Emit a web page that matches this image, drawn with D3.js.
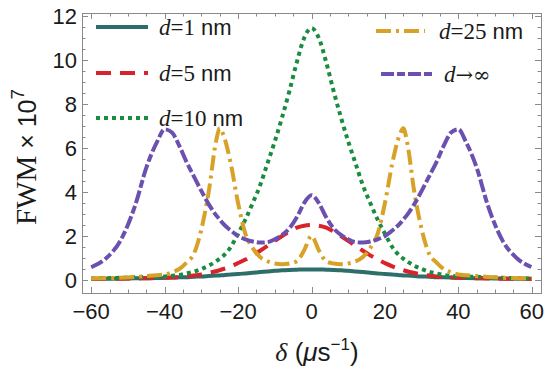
<!DOCTYPE html>
<html>
<head>
<meta charset="utf-8">
<script src="https://cdn.jsdelivr.net/npm/d3@7"></script>
<style>
  body { margin: 0; background: #fff; }
  svg { display: block; }
</style>
</head>
<body>
<div id="chart"></div>
<script>
// detuning grid (µs^-1) shared by every curve
var deltas = [-60,-56,-52,-48,-45,-42,-40,-38,-36,-34,-32,-30,-28,-26,-25,-24,-22,-20,-18,-16,-14,-12,-10,-8,-6,-4,-2,
  0, 2,4,6,8,10,12,14,16,18,20,22,24,25,26,28,30,32,34,36,38,40,42,45,48,52,56,60];

// FWM x 10^7
var d1 = [0.055,0.06,0.065,0.075,0.08,0.09,0.1,0.11,0.12,0.13,0.15,0.16,0.18,0.2,0.21,0.22,0.25,0.27,0.3,0.33,0.36,0.39,0.42,0.44,0.46,0.47,0.48,
  0.48, 0.48,0.47,0.46,0.44,0.42,0.39,0.36,0.33,0.3,0.27,0.25,0.22,0.21,0.2,0.18,0.16,0.15,0.13,0.12,0.11,0.1,0.09,0.08,0.075,0.065,0.06,0.055];
var d5 = [0.05,0.06,0.06,0.07,0.08,0.09,0.1,0.11,0.13,0.16,0.2,0.25,0.32,0.4,0.45,0.5,0.62,0.77,0.93,1.12,1.33,1.55,1.78,2.0,2.2,2.38,2.47,
  2.5, 2.47,2.38,2.2,2.0,1.78,1.55,1.33,1.12,0.93,0.77,0.62,0.5,0.45,0.4,0.32,0.25,0.2,0.16,0.13,0.11,0.1,0.09,0.08,0.07,0.06,0.06,0.05];
var d10 = [0.07,0.08,0.1,0.12,0.14,0.15,0.16,0.19,0.23,0.3,0.38,0.5,0.65,0.85,0.97,1.1,1.5,2.1,2.75,3.5,4.3,5.3,6.3,7.4,8.6,9.9,11.0,
  11.45, 11.0,9.9,8.6,7.4,6.3,5.3,4.3,3.5,2.75,2.1,1.5,1.1,0.97,0.85,0.65,0.5,0.38,0.3,0.23,0.19,0.16,0.15,0.14,0.12,0.1,0.08,0.07];
var d25 = [0.07,0.08,0.1,0.14,0.18,0.22,0.25,0.35,0.5,0.8,1.2,2.3,4.0,6.3,6.9,6.6,5.3,3.5,2.1,1.45,1.05,0.85,0.75,0.72,0.75,0.85,1.35,
  2.0, 1.35,0.85,0.75,0.72,0.75,0.85,1.05,1.45,2.1,3.5,5.3,6.6,6.9,6.3,4.0,2.3,1.2,0.8,0.5,0.35,0.25,0.22,0.18,0.14,0.1,0.08,0.07];
var dInf = [0.58,0.98,1.8,3.4,5.1,6.3,6.85,6.7,6.1,5.35,4.7,4.05,3.45,2.95,2.75,2.55,2.25,2.0,1.85,1.75,1.7,1.72,1.85,2.05,2.35,2.85,3.5,
  3.85, 3.5,2.85,2.35,2.05,1.85,1.72,1.7,1.75,1.85,2.0,2.25,2.55,2.75,2.95,3.45,4.05,4.7,5.35,6.1,6.7,6.85,6.3,5.1,3.4,1.8,0.98,0.58];

var xTicks = [-60,-40,-20,0,20,40,60];
var yTicks = [0,2,4,6,8,10,12];

var width = 550, height = 376;
var mL = 82, mR = 541, mT = 13, mB = 293;

var svg = d3.select("#chart").append("svg").attr("width", width).attr("height", height);

var x = d3.scaleLinear().domain([-62.5, 62.5]).range([mL, mR]);
var y = d3.scaleLinear().domain([0, 12]).range([280, 16]);

var frameCol = "#8a8a8a";

// ticks on all four sides, pointing inward
var xMinor = d3.range(-60, 61, 5), yMinor = d3.range(0, 12.01, 0.5);
var ax = svg.append("g").attr("stroke", frameCol).attr("stroke-width", 1);
xMinor.forEach(function (v) {
  var len = xTicks.indexOf(v) >= 0 ? 6 : 3.5, px = Math.round(x(v)) + 0.5;
  ax.append("line").attr("x1", px).attr("x2", px).attr("y1", mB).attr("y2", mB - len);
  ax.append("line").attr("x1", px).attr("x2", px).attr("y1", mT).attr("y2", mT + len);
});
yMinor.forEach(function (v) {
  var len = yTicks.indexOf(v) >= 0 ? 6 : 3.5, py = Math.round(y(v)) + 0.5;
  ax.append("line").attr("y1", py).attr("y2", py).attr("x1", mL).attr("x2", mL + len);
  ax.append("line").attr("y1", py).attr("y2", py).attr("x1", mR).attr("x2", mR - len);
});
svg.append("rect").attr("x", mL + 0.5).attr("y", mT + 0.5).attr("width", mR - mL).attr("height", mB - mT)
  .attr("fill", "none").attr("stroke", frameCol);

// tick labels
var sans = "'Liberation Sans', Arial, sans-serif", serif = "'Liberation Serif', 'Times New Roman', serif";
svg.append("g").selectAll("text").data(xTicks).enter().append("text")
  .attr("x", d => x(d)).attr("y", 319).attr("text-anchor", "middle")
  .attr("font-family", sans).attr("font-size", 22).attr("fill", "#1a1a1a")
  .text(d => d < 0 ? "\u2212" + Math.abs(d) : d);
svg.append("g").selectAll("text").data(yTicks).enter().append("text")
  .attr("x", 77).attr("y", d => y(d) + 8).attr("text-anchor", "end")
  .attr("font-family", sans).attr("font-size", 22).attr("fill", "#1a1a1a")
  .text(d => d);

// curves
var series = [
  { name: "1", vals: d1, color: "#2d6e6a", dash: null },
  { name: "5", vals: d5, color: "#d8232a", dash: "15,9" },
  { name: "10", vals: d10, color: "#1b8c3f", dash: "4,4" },
  { name: "25", vals: d25, color: "#d7a227", dash: "15,5,3,5" },
  { name: "inf", vals: dInf, color: "#6c50b0", dash: "13,3,8,3" }
];
svg.append("clipPath").attr("id", "plotclip").append("rect")
  .attr("x", mL).attr("y", mT).attr("width", mR - mL).attr("height", mB - mT);
var line = d3.line().x((d, i) => x(deltas[i])).y(d => y(d)).curve(d3.curveMonotoneX);
var plot = svg.append("g").attr("clip-path", "url(#plotclip)");
series.forEach(function (s) {
  plot.append("path").datum(s.vals).attr("d", line).attr("fill", "none")
    .attr("stroke", s.color).attr("stroke-width", 4)
    .attr("stroke-dasharray", s.dash);
});

// legend
var legend = [
  { s: series[0], x1: 96, x2: 148, y: 27, tx: 159, num: "=1", unit: " nm" },
  { s: series[1], x1: 96, x2: 148, y: 73, tx: 159, num: "=5", unit: " nm" },
  { s: series[2], x1: 96, x2: 148, y: 118, tx: 159, num: "=10", unit: " nm" },
  { s: series[3], x1: 376, x2: 425, y: 31, tx: 439, num: "=25", unit: " nm" },
  { s: series[4], x1: 381, x2: 433, y: 74, tx: 444, num: null, unit: "" }
];
legend.forEach(function (l) {
  svg.append("line").attr("x1", l.x1).attr("x2", l.x2).attr("y1", l.y).attr("y2", l.y)
    .attr("stroke", l.s.color).attr("stroke-width", 4).attr("stroke-dasharray", l.s.dash);
  var t = svg.append("text").attr("x", l.tx).attr("y", l.y + 8).attr("font-size", 23).attr("fill", "#1a1a1a");
  t.append("tspan").attr("font-family", serif).attr("font-style", "italic").text("d");
  if (l.num) t.append("tspan").attr("font-family", serif).text(l.num);
  else t.append("tspan").attr("font-family", "'DejaVu Serif', serif").attr("font-size", 21).text("\u2192\u221e");
  if (l.unit) t.append("tspan").attr("font-family", sans).attr("font-size", 22).text(l.unit);
});

// axis titles
var yl = svg.append("text").attr("transform", "translate(36,157) rotate(-90)").attr("text-anchor", "middle")
  .attr("fill", "#1a1a1a");
yl.append("tspan").attr("font-family", serif).attr("font-size", 29).text("FWM");
yl.append("tspan").attr("font-family", sans).attr("font-size", 25).text(" \u00d7 10");
yl.append("tspan").attr("font-family", sans).attr("font-size", 19).attr("dy", -12).text("7");

var xl = svg.append("text").attr("x", 317).attr("y", 361).attr("text-anchor", "middle").attr("fill", "#1a1a1a").attr("font-size", 26);
xl.append("tspan").attr("font-family", serif).attr("font-style", "italic").text("\u03b4");
xl.append("tspan").attr("font-family", sans).text(" (");
xl.append("tspan").attr("font-family", sans).attr("font-style", "italic").text("\u03bc");
xl.append("tspan").attr("font-family", sans).text("s");
xl.append("tspan").attr("font-family", sans).attr("font-size", 17).attr("dy", -11).text("\u22121");
xl.append("tspan").attr("font-family", sans).attr("dy", 11).text(")");
</script>
</body>
</html>
